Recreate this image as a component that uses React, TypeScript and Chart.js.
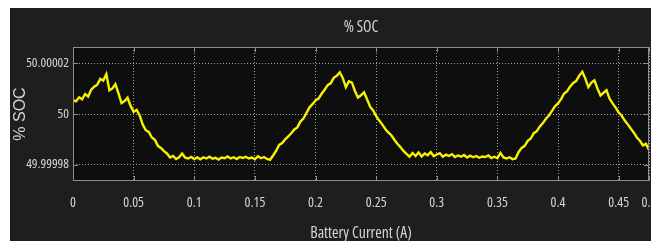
import React, { useEffect, useRef } from "react";
import { Chart, registerables } from "chart.js";

Chart.register(...registerables);

// Battery current samples (A)
const currentA = [
  0, 0.0025, 0.005, 0.0075, 0.01, 0.0125, 0.015, 0.0175, 0.02, 0.0225,
  0.025, 0.0275, 0.03, 0.0325, 0.035, 0.0375, 0.04, 0.0425, 0.045, 0.0475,
  0.05, 0.0525, 0.055, 0.0575, 0.06, 0.0625, 0.065, 0.0675, 0.07, 0.0725,
  0.075, 0.0775, 0.08, 0.0825, 0.085, 0.0875, 0.09, 0.0925, 0.095, 0.0975,
  0.1, 0.1025, 0.105, 0.1075, 0.11, 0.1125, 0.115, 0.1175, 0.12, 0.1225,
  0.125, 0.1275, 0.13, 0.1325, 0.135, 0.1375, 0.14, 0.1425, 0.145, 0.1475,
  0.15, 0.1525, 0.155, 0.1575, 0.16, 0.1625, 0.165, 0.1675, 0.17, 0.1725,
  0.175, 0.1775, 0.18, 0.1825, 0.185, 0.1875, 0.19, 0.1925, 0.195, 0.1975,
  0.2, 0.2025, 0.205, 0.2075, 0.21, 0.2125, 0.215, 0.2175, 0.22, 0.2225,
  0.225, 0.2275, 0.23, 0.2325, 0.235, 0.2375, 0.24, 0.2425, 0.245, 0.2475,
  0.25, 0.2525, 0.255, 0.2575, 0.26, 0.2625, 0.265, 0.2675, 0.27, 0.2725,
  0.275, 0.2775, 0.28, 0.2825, 0.285, 0.2875, 0.29, 0.2925, 0.295, 0.2975,
  0.3, 0.3025, 0.305, 0.3075, 0.31, 0.3125, 0.315, 0.3175, 0.32, 0.3225,
  0.325, 0.3275, 0.33, 0.3325, 0.335, 0.3375, 0.34, 0.3425, 0.345, 0.3475,
  0.35, 0.3525, 0.355, 0.3575, 0.36, 0.3625, 0.365, 0.3675, 0.37, 0.3725,
  0.375, 0.3775, 0.38, 0.3825, 0.385, 0.3875, 0.39, 0.3925, 0.395, 0.3975,
  0.4, 0.4025, 0.405, 0.4075, 0.41, 0.4125, 0.415, 0.4175, 0.42, 0.4225,
  0.425, 0.4275, 0.43, 0.4325, 0.435, 0.4375, 0.44, 0.4425, 0.445, 0.4475,
  0.45, 0.4525, 0.455, 0.4575, 0.46, 0.4625, 0.465, 0.4675, 0.47, 0.4725,
  0.475,
];

// SOC deviation from 50 %, in units of 1e-6 %
const SOC_BASE = 50;
const SOC_UNIT = 1e-6;
const socOffsetMicro = [
  5.5, 5.0, 6.6, 5.8, 7.9, 6.9, 9.6, 10.8, 11.6, 13.9,
  13.2, 15.8, 9.4, 10.1, 11.8, 8.2, 4.3, 5.1, 6.4, 3.2,
  0.9, 1.6, -0.6, -4.2, -6.4, -7.1, -9.3, -10.2, -12.6, -13.4,
  -14.7, -15.6, -17.2, -16.6, -17.8, -17.1, -15.6, -17.3, -17.6, -17.0,
  -17.8, -17.2, -17.9, -17.1, -17.6, -16.9, -17.7, -17.3, -18.0, -17.2,
  -17.5, -16.8, -17.6, -17.1, -17.8, -17.0, -17.4, -16.9, -17.6, -17.2,
  -17.9, -16.7, -17.5, -17.0, -17.8, -18.1, -16.4, -14.6, -12.2, -11.5,
  -10.0, -8.9, -7.6, -6.1, -5.3, -3.0, -1.8, 0.4, 2.6, 3.9,
  5.4, 6.1, 8.0, 9.6, 11.4, 12.1, 14.3, 15.1, 16.5, 14.2,
  10.6, 12.9, 12.4, 9.1, 6.5, 7.4, 8.6, 5.8, 2.9, 1.4,
  -0.8, -2.6, -4.1, -5.9, -7.3, -8.4, -10.2, -11.8, -13.1, -14.6,
  -15.8, -16.9, -15.4, -16.6, -15.2, -16.8, -15.6, -16.3, -15.1, -16.7,
  -16.0, -15.5, -16.9, -16.1, -16.6, -15.9, -17.0, -16.4, -16.9, -16.2,
  -17.2, -16.5, -17.1, -16.6, -17.3, -16.8, -17.0, -16.4, -17.4, -16.9,
  -17.5, -15.4, -17.2, -17.6, -17.1, -17.9, -17.6, -15.0, -13.4, -12.6,
  -10.6, -9.7, -7.6, -6.8, -4.9, -3.6, -1.9, -0.6, 1.2, 3.1,
  4.2, 5.9, 8.1, 9.0, 10.9, 12.3, 13.1, 15.2, 16.7, 14.0,
  10.6, 12.4, 13.3, 10.1, 7.3, 8.4, 9.4, 6.0, 4.2, 2.5,
  0.6, -0.7, -2.6, -4.1, -5.8, -7.4, -9.3, -10.6, -12.4, -11.8,
  -14.2,
];

const xTickValues = [0, 0.05, 0.1, 0.15, 0.2, 0.25, 0.3, 0.35, 0.4, 0.45, 0.475];
const xTickLabels = ["0", "0.05", "0.1", "0.15", "0.2", "0.25", "0.3", "0.35", "0.4", "0.45", "0.5"];
const yTickValues = [49.99998, 50, 50.00002];
const yTickLabels = ["49.99998", "50", "50.00002"];
const X_MIN = 0;
const X_MAX = 0.475;
const Y_MIN = 49.9999735;
const Y_MAX = 50.0000265;

const TEXT = "#d4d4d4";
const FRAME = "#8e8e8e";
const BASE_FAMILY = '"Liberation Sans", Arial, sans-serif';

// Pick a condensed face if one is installed; otherwise fall back to a smaller regular face.
function pickNarrowFont(): { family: string; weight: string; scale: number } {
  const c = document.createElement("canvas").getContext("2d");
  const sample = "50.00002 Battery Current (A)";
  if (!c) return { family: BASE_FAMILY, weight: "normal", scale: 0.8 };
  c.font = '20px "Liberation Sans"';
  const ref = c.measureText(sample).width;
  const candidates = [
    { font: '20px "Liberation Sans Narrow"', family: '"Liberation Sans Narrow"', weight: "normal" },
    { font: 'condensed 20px "Noto Sans"', family: '"Noto Sans"', weight: "condensed" },
    { font: 'condensed 20px "Open Sans"', family: '"Open Sans"', weight: "condensed" },
    { font: '20px "DejaVu Sans Condensed"', family: '"DejaVu Sans Condensed"', weight: "normal" },
    { font: 'condensed 20px "DejaVu Sans"', family: '"DejaVu Sans"', weight: "condensed" },
  ];
  for (const cand of candidates) {
    c.font = cand.font;
    const w = c.measureText(sample).width;
    if (w < ref * 0.86 && w > ref * 0.6) {
      return { family: cand.family, weight: cand.weight, scale: (ref * 0.82) / w };
    }
  }
  return { family: BASE_FAMILY, weight: "normal", scale: 0.82 };
}

const framePlugin = {
  id: "matlabFrame",
  beforeDraw(chart: any) {
    const { ctx, chartArea } = chart;
    const { left, top, right, bottom } = chartArea;
    ctx.save();
    ctx.fillStyle = "#0e0e0e";
    ctx.fillRect(left, top, right - left, bottom - top);
    ctx.restore();
  },
  afterDatasetsDraw(chart: any) {
    const { ctx, chartArea, scales } = chart;
    const { left, top, right, bottom } = chartArea;
    ctx.save();
    ctx.strokeStyle = FRAME;
    ctx.lineWidth = 1;
    ctx.strokeRect(left + 0.5, top + 0.5, right - left - 1, bottom - top - 1);
    ctx.beginPath();
    const tl = 5;
    xTickValues.forEach((v) => {
      const px = Math.round(scales.x.getPixelForValue(v)) + 0.5;
      ctx.moveTo(px, bottom);
      ctx.lineTo(px, bottom - tl);
      ctx.moveTo(px, top);
      ctx.lineTo(px, top + tl);
    });
    yTickValues.forEach((v) => {
      const py = Math.round(scales.y.getPixelForValue(v)) + 0.5;
      ctx.moveTo(left, py);
      ctx.lineTo(left + tl, py);
      ctx.moveTo(right, py);
      ctx.lineTo(right - tl, py);
    });
    ctx.stroke();
    ctx.restore();
  },
};

export default function App() {
  const canvasRef = useRef<HTMLCanvasElement | null>(null);

  useEffect(() => {
    const canvas = canvasRef.current;
    if (!canvas) return;
    const nf = pickNarrowFont();
    const narrow = (size: number, lineHeight: number = 1.2) => ({
      family: nf.family,
      weight: nf.weight,
      size: Math.round(size * nf.scale * 10) / 10,
      lineHeight,
    });
    const titleFont = narrow(14.5, 1.2);
    const titleLH = titleFont.size * 1.2;
    const titlePadTop = 20 - titleLH / 2;
    const titlePadBottom = 39 - titleLH - titlePadTop;
    const xTickFont = narrow(13, 1.2);
    const xTickPad = 22 - (xTickFont.size * 1.2) / 2;

    const points = currentA.map((x, i) => ({ x, y: SOC_BASE + socOffsetMicro[i] * SOC_UNIT }));
    const chart = new Chart(canvas, {
      type: "line",
      data: {
        datasets: [
          {
            label: "% SOC",
            data: points,
            borderColor: "#f6f200",
            borderWidth: 2.4,
            pointRadius: 0,
            tension: 0,
            fill: false,
          },
        ],
      },
      options: {
        responsive: false,
        animation: false,
        events: [],
        layout: { padding: { left: 0, right: 2, top: 0, bottom: 0 } },
        plugins: {
          legend: { display: false },
          tooltip: { enabled: false },
          title: {
            display: true,
            text: "% SOC",
            color: TEXT,
            fullSize: false,
            font: titleFont,
            padding: { top: titlePadTop, bottom: titlePadBottom },
          },
        },
        scales: {
          x: {
            type: "linear",
            min: X_MIN,
            max: X_MAX,
            afterBuildTicks: (s: any) => {
              s.ticks = xTickValues.map((v) => ({ value: v }));
            },
            afterFit: (s: any) => {
              s.height = 60;
              s.paddingLeft = 0;
              s.paddingRight = 0;
            },
            ticks: {
              color: TEXT,
              padding: xTickPad,
              autoSkip: false,
              maxRotation: 0,
              minRotation: 0,
              font: xTickFont,
              callback: (_v: any, i: number) => xTickLabels[i],
            },
            grid: { color: "rgba(185,185,185,0.85)", lineWidth: 1, drawTicks: false },
            border: { display: false, dash: [1, 2] },
            title: {
              display: true,
              text: "Battery Current (A)",
              color: TEXT,
              font: narrow(14.7, 1),
              padding: { top: 0, bottom: 0 },
            },
          },
          y: {
            type: "linear",
            min: Y_MIN,
            max: Y_MAX,
            afterBuildTicks: (s: any) => {
              s.ticks = yTickValues.map((v) => ({ value: v }));
            },
            afterFit: (s: any) => {
              s.width = 63;
              s.paddingTop = 0;
              s.paddingBottom = 0;
            },
            ticks: {
              color: TEXT,
              padding: 4,
              autoSkip: false,
              font: narrow(12.5),
              callback: (_v: any, i: number) => yTickLabels[i],
            },
            grid: { color: "rgba(185,185,185,0.85)", lineWidth: 1, drawTicks: false },
            border: { display: false, dash: [1, 2] },
            title: {
              display: true,
              text: "% SOC",
              color: TEXT,
              font: { family: BASE_FAMILY, size: 16, lineHeight: 1 },
              padding: { top: 3, bottom: 0 },
            },
          },
        },
      },
      plugins: [framePlugin],
    } as any);
    return () => chart.destroy();
  }, []);

  return (
    <canvas
      ref={canvasRef}
      width={641}
      height={233}
      style={{ position: "fixed", left: 10, top: 8, width: 641, height: 233, background: "#1e1e1e", display: "block" }}
    />
  );
}
